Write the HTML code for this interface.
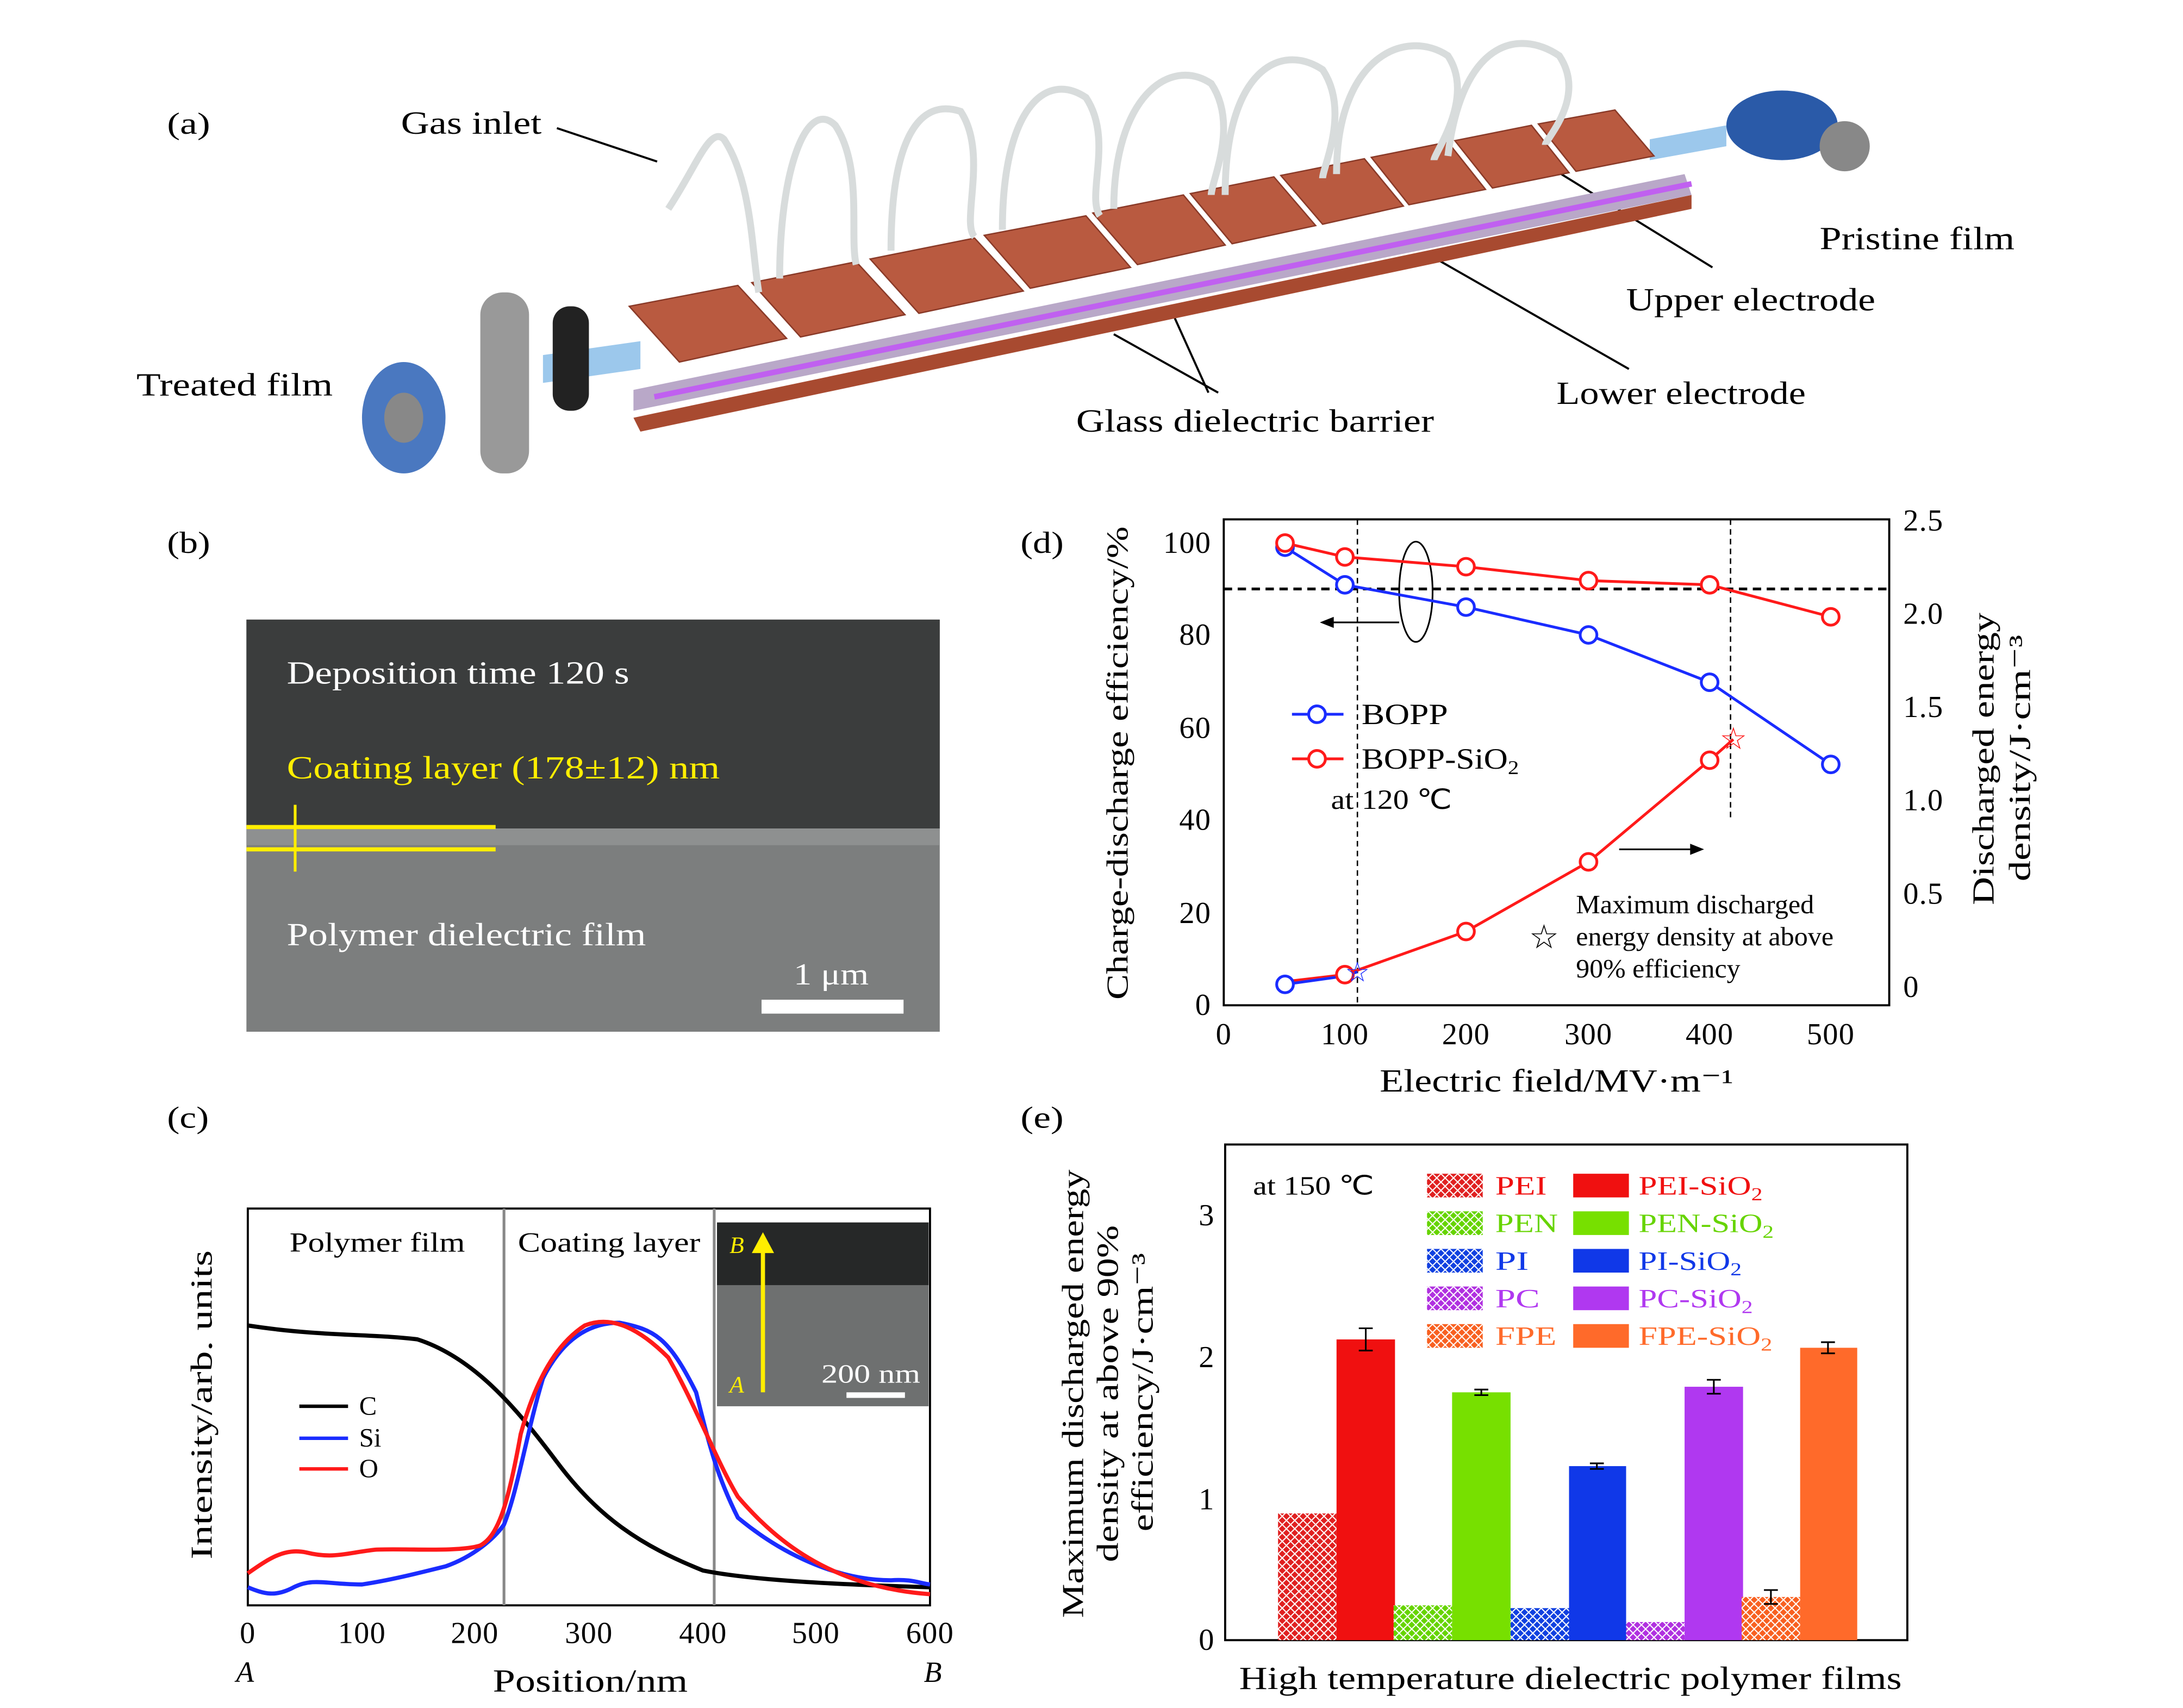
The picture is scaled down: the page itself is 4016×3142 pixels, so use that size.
<!DOCTYPE html>
<html><head><meta charset="utf-8"><style>html,body{margin:0;padding:0;background:#fff}svg{display:block}</style></head>
<body>
<svg width="4016" height="3142" viewBox="0 0 1568 1226.7" xmlns="http://www.w3.org/2000/svg" font-family="Liberation Serif, serif">
<defs>
<pattern id="hr" width="6" height="6" patternUnits="userSpaceOnUse"><rect width="6" height="6" fill="#e02020"/><path d="M0 0L6 6M6 0L0 6" stroke="#fff" stroke-width="0.8"/></pattern>
<pattern id="hg" width="6" height="6" patternUnits="userSpaceOnUse"><rect width="6" height="6" fill="#66d400"/><path d="M0 0L6 6M6 0L0 6" stroke="#fff" stroke-width="0.8"/></pattern>
<pattern id="hb" width="6" height="6" patternUnits="userSpaceOnUse"><rect width="6" height="6" fill="#1040e0"/><path d="M0 0L6 6M6 0L0 6" stroke="#fff" stroke-width="0.8"/></pattern>
<pattern id="hp" width="6" height="6" patternUnits="userSpaceOnUse"><rect width="6" height="6" fill="#b030e0"/><path d="M0 0L6 6M6 0L0 6" stroke="#fff" stroke-width="0.8"/></pattern>
<pattern id="ho" width="6" height="6" patternUnits="userSpaceOnUse"><rect width="6" height="6" fill="#f86020"/><path d="M0 0L6 6M6 0L0 6" stroke="#fff" stroke-width="0.8"/></pattern>
</defs>
<!-- (a) -->
<text x="120" y="96" font-size="22" textLength="31" lengthAdjust="spacingAndGlyphs">(a)</text>
<text x="288" y="96" font-size="23" textLength="101" lengthAdjust="spacingAndGlyphs">Gas inlet</text>
<line x1="400" y1="92" x2="472" y2="116" stroke="#000" stroke-width="1.5"/>
<text x="1307" y="179" font-size="23" textLength="140" lengthAdjust="spacingAndGlyphs">Pristine film</text>
<text x="1168" y="223" font-size="23" textLength="179" lengthAdjust="spacingAndGlyphs">Upper electrode</text>
<line x1="1230" y1="192" x2="1110" y2="118" stroke="#000" stroke-width="1.5"/>
<text x="1118" y="290" font-size="23" textLength="179" lengthAdjust="spacingAndGlyphs">Lower electrode</text>
<line x1="1170" y1="265" x2="1030" y2="185" stroke="#000" stroke-width="1.5"/>
<text x="773" y="310" font-size="23" textLength="257" lengthAdjust="spacingAndGlyphs">Glass dielectric barrier</text>
<line x1="875" y1="282" x2="800" y2="240" stroke="#000" stroke-width="1.5"/>
<line x1="868" y1="282" x2="840" y2="220" stroke="#000" stroke-width="1.5"/>
<text x="98" y="284" font-size="23" textLength="141" lengthAdjust="spacingAndGlyphs">Treated film</text>
<polygon points="390,255 460,245 460,265 390,275" fill="#9cc8ec"/>
<polygon points="1185,100 1240,90 1240,105 1185,115" fill="#9cc8ec"/>
<polygon points="455,300 1215,140 1215,150 460,310" fill="#a84a30"/>
<polygon points="455,280 1210,125 1215,140 455,295" fill="#b9a8c8"/>
<line x1="470" y1="285" x2="1215" y2="132" stroke="#c060f0" stroke-width="4"/>
<g fill="#b95a40" stroke="#8a3a28" stroke-width="1">
<polygon points="452,220 530,205 565,243 488,260"/>
<polygon points="540,203 615,188 650,226 575,242"/>
<polygon points="625,186 700,171 735,209 660,225"/>
<polygon points="707,169 780,155 812,192 740,207"/>
<polygon points="785,153 850,140 880,176 817,190"/>
<polygon points="855,139 915,127 945,162 885,175"/>
<polygon points="920,126 980,114 1008,148 950,161"/>
<polygon points="985,113 1040,102 1067,136 1012,147"/>
<polygon points="1045,101 1100,90 1127,124 1072,135"/>
<polygon points="1105,89 1160,79 1188,112 1132,123"/>
</g>
<path d="M480 150 C500 120 510 90 520 100 C540 130 540 180 545 210 M560 200 C560 120 580 70 600 90 C620 120 610 170 615 190 M640 180 C640 100 660 70 690 80 C710 110 690 160 700 170 M720 165 C720 80 750 50 780 70 C800 100 780 140 790 155 M800 150 C800 70 840 40 870 60 C890 90 870 130 870 140 M880 140 C880 50 920 30 950 50 C970 80 950 120 950 128 M960 125 C960 40 1010 20 1040 40 C1060 70 1030 110 1030 115 M1040 112 C1050 30 1090 20 1120 40 C1140 70 1110 100 1110 104" fill="none" stroke="#d8dcdc" stroke-width="5"/>
<g>
<ellipse cx="290" cy="300" rx="30" ry="40" fill="#4a78c0"/><ellipse cx="290" cy="300" rx="14" ry="18" fill="#888"/>
<rect x="345" y="210" width="35" height="130" rx="16" fill="#999"/>
<rect x="397" y="220" width="26" height="75" rx="12" fill="#222"/>
<ellipse cx="1280" cy="90" rx="40" ry="25" fill="#2a5aa8"/><ellipse cx="1325" cy="105" rx="18" ry="18" fill="#888"/>
</g>
<!-- (b) -->
<text x="120" y="397" font-size="22" textLength="31" lengthAdjust="spacingAndGlyphs">(b)</text>
<rect x="177" y="445" width="498" height="296" fill="#7c7e7e"/>
<rect x="177" y="445" width="498" height="150" fill="#3b3d3d"/>
<rect x="177" y="595" width="498" height="12" fill="#8e9090"/>
<text x="206" y="491" font-size="23" fill="#fff" textLength="246" lengthAdjust="spacingAndGlyphs">Deposition time 120 s</text>
<text x="206" y="559" font-size="23" fill="#ffee00" textLength="311" lengthAdjust="spacingAndGlyphs">Coating layer (178±12) nm</text>
<line x1="177" y1="594" x2="356" y2="594" stroke="#ffee00" stroke-width="3"/>
<line x1="177" y1="610" x2="356" y2="610" stroke="#ffee00" stroke-width="3"/>
<line x1="212" y1="578" x2="212" y2="626" stroke="#ffee00" stroke-width="2"/>
<text x="206" y="679" font-size="23" fill="#fff" textLength="258" lengthAdjust="spacingAndGlyphs">Polymer dielectric film</text>
<text x="570" y="707" font-size="22" fill="#fff" textLength="54" lengthAdjust="spacingAndGlyphs">1 μm</text>
<rect x="547" y="718" width="102" height="10" fill="#fff"/>
<!-- (c) -->
<text x="120" y="810" font-size="22" textLength="30" lengthAdjust="spacingAndGlyphs">(c)</text>
<rect x="178" y="868" width="490" height="285" fill="none" stroke="#000" stroke-width="1.5"/>
<line x1="362" y1="868" x2="362" y2="1153" stroke="#888" stroke-width="2"/>
<line x1="513" y1="868" x2="513" y2="1153" stroke="#888" stroke-width="2"/>
<text x="208" y="899" font-size="20" textLength="126" lengthAdjust="spacingAndGlyphs">Polymer film</text>
<text x="372" y="899" font-size="20" textLength="131" lengthAdjust="spacingAndGlyphs">Coating layer</text>
<rect x="515" y="878" width="152" height="132" fill="#6e7070"/><rect x="515" y="878" width="152" height="45" fill="#262828"/>
<line x1="548" y1="1000" x2="548" y2="895" stroke="#ffee00" stroke-width="3"/><polygon points="540,900 548,885 556,900" fill="#ffee00"/>
<text x="524" y="900" font-size="17" font-style="italic" fill="#ffee00">B</text>
<text x="524" y="1000" font-size="17" font-style="italic" fill="#ffee00">A</text>
<text x="590" y="993" font-size="19" fill="#fff" textLength="71" lengthAdjust="spacingAndGlyphs">200 nm</text>
<rect x="608" y="1000" width="42" height="4" fill="#fff"/>
<path d="M178 952 C230 960 270 958 300 962 C340 975 370 1010 400 1050 C430 1090 460 1110 505 1128 C540 1135 600 1138 668 1140" fill="none" stroke="#000" stroke-width="3"/>
<path d="M178 1140 C190 1145 198 1147 211 1140 C225 1133 235 1138 260 1138 C280 1135 300 1130 320 1125 C340 1118 355 1105 362 1095 C372 1070 378 1030 390 990 C405 960 425 950 445 950 C470 955 480 960 500 1000 C510 1040 515 1060 530 1090 C560 1115 600 1135 640 1135 C655 1134 660 1137 668 1138" fill="none" stroke="#1a2cff" stroke-width="3"/>
<path d="M178 1130 C195 1118 205 1112 220 1115 C240 1120 250 1115 270 1113 C290 1112 330 1115 345 1110 C358 1103 365 1080 374 1030 C385 990 400 965 420 952 C440 944 460 955 480 975 C500 1010 515 1050 530 1075 C560 1110 600 1140 668 1145" fill="none" stroke="#ff1a1a" stroke-width="3"/>
<line x1="215" y1="1010" x2="250" y2="1010" stroke="#000" stroke-width="2.5"/><text x="258" y="1016" font-size="19">C</text>
<line x1="215" y1="1033" x2="250" y2="1033" stroke="#1a2cff" stroke-width="2.5"/><text x="258" y="1039" font-size="19">Si</text>
<line x1="215" y1="1055" x2="250" y2="1055" stroke="#ff1a1a" stroke-width="2.5"/><text x="258" y="1061" font-size="19">O</text>
<g font-size="22" letter-spacing="0.5" text-anchor="middle"><text x="178" y="1180">0</text><text x="260" y="1180">100</text><text x="341" y="1180">200</text><text x="423" y="1180">300</text><text x="505" y="1180">400</text><text x="586" y="1180">500</text><text x="668" y="1180">600</text></g>
<text x="176" y="1208" font-size="21" font-style="italic" text-anchor="middle">A</text><text x="670" y="1208" font-size="21" font-style="italic" text-anchor="middle">B</text>
<text x="354" y="1215" font-size="23" textLength="140" lengthAdjust="spacingAndGlyphs">Position/nm</text>
<text transform="translate(152,1120) rotate(-90)" font-size="22" textLength="222" lengthAdjust="spacingAndGlyphs">Intensity/arb. units</text>
<!-- (d) -->
<text x="733" y="397" font-size="22" textLength="31" lengthAdjust="spacingAndGlyphs">(d)</text>
<rect x="879" y="373" width="478" height="349" fill="none" stroke="#000" stroke-width="1.5"/>
<g font-size="22" letter-spacing="0.5" text-anchor="end"><text x="870" y="729">0</text><text x="870" y="663">20</text><text x="870" y="596">40</text><text x="870" y="530">60</text><text x="870" y="463">80</text><text x="870" y="397">100</text></g>
<g font-size="22" letter-spacing="0.5"><text x="1367" y="716">0</text><text x="1367" y="649">0.5</text><text x="1367" y="582">1.0</text><text x="1367" y="515">1.5</text><text x="1367" y="448">2.0</text><text x="1367" y="381">2.5</text></g>
<g font-size="22" letter-spacing="0.5" text-anchor="middle"><text x="879" y="750">0</text><text x="966" y="750">100</text><text x="1053" y="750">200</text><text x="1141" y="750">300</text><text x="1228" y="750">400</text><text x="1315" y="750">500</text></g>
<text x="991" y="784" font-size="23" textLength="254" lengthAdjust="spacingAndGlyphs">Electric field/MV·m⁻¹</text>
<text transform="translate(810,718) rotate(-90)" font-size="22" textLength="340" lengthAdjust="spacingAndGlyphs">Charge-discharge efficiency/%</text>
<text transform="translate(1432,650) rotate(-90)" font-size="22" textLength="210" lengthAdjust="spacingAndGlyphs">Discharged energy</text>
<text transform="translate(1458,633) rotate(-90)" font-size="22" textLength="177" lengthAdjust="spacingAndGlyphs">density/J·cm⁻³</text>
<line x1="879" y1="423" x2="1357" y2="423" stroke="#000" stroke-width="2" stroke-dasharray="6,4"/>
<line x1="975" y1="373" x2="975" y2="722" stroke="#000" stroke-width="1" stroke-dasharray="4,3"/>
<line x1="1243" y1="373" x2="1243" y2="590" stroke="#000" stroke-width="1" stroke-dasharray="4,3"/>
<ellipse cx="1017" cy="425" rx="12" ry="36" fill="none" stroke="#000" stroke-width="1.2"/>
<line x1="1005" y1="447" x2="950" y2="447" stroke="#000" stroke-width="1.2"/><polygon points="948,447 958,443 958,451"/>
<line x1="1163" y1="610" x2="1220" y2="610" stroke="#000" stroke-width="1.2"/><polygon points="1224,610 1214,606 1214,614"/>
<g fill="none" stroke-width="2">
<polyline stroke="#1a2cff" points="923,393 966,420 1053,436 1141,456 1228,490 1315,549"/>
<polyline stroke="#ff1a1a" points="923,390 966,400 1053,407 1141,417 1228,420 1315,443"/>
<polyline stroke="#ff1a1a" points="923,705 966,700 1053,669 1141,619 1228,546 1245,531"/>
<polyline stroke="#1a2cff" points="923,707 966,701 975,698"/>
</g>
<g fill="#fff" stroke-width="2">
<g stroke="#1a2cff"><circle cx="923" cy="393" r="6"/><circle cx="966" cy="420" r="6"/><circle cx="1053" cy="436" r="6"/><circle cx="1141" cy="456" r="6"/><circle cx="1228" cy="490" r="6"/><circle cx="1315" cy="549" r="6"/><circle cx="923" cy="707" r="6"/></g>
<g stroke="#ff1a1a"><circle cx="923" cy="390" r="6"/><circle cx="966" cy="400" r="6"/><circle cx="1053" cy="407" r="6"/><circle cx="1141" cy="417" r="6"/><circle cx="1228" cy="420" r="6"/><circle cx="1315" cy="443" r="6"/><circle cx="966" cy="700" r="6"/><circle cx="1053" cy="669" r="6"/><circle cx="1141" cy="619" r="6"/><circle cx="1228" cy="546" r="6"/></g>
</g>
<text x="1245" y="538" font-size="22" fill="#ff1a1a" text-anchor="middle">☆</text>
<text x="975" y="705" font-size="20" fill="#1a2cff" text-anchor="middle">☆</text>
<line x1="928" y1="513" x2="965" y2="513" stroke="#1a2cff" stroke-width="2"/><circle cx="946" cy="513" r="6" fill="#fff" stroke="#1a2cff" stroke-width="2"/>
<text x="978" y="520" font-size="21" textLength="62" lengthAdjust="spacingAndGlyphs">BOPP</text>
<line x1="928" y1="545" x2="965" y2="545" stroke="#ff1a1a" stroke-width="2"/><circle cx="946" cy="545" r="6" fill="#fff" stroke="#ff1a1a" stroke-width="2"/>
<text x="978" y="552" font-size="21" textLength="113" lengthAdjust="spacingAndGlyphs">BOPP-SiO<tspan font-size="14" dy="4">2</tspan></text>
<text x="956" y="581" font-size="20" textLength="87" lengthAdjust="spacingAndGlyphs">at 120 ℃</text>
<text x="1132" y="656" font-size="19" textLength="171" lengthAdjust="spacingAndGlyphs">Maximum discharged</text>
<text x="1132" y="679" font-size="19" textLength="185" lengthAdjust="spacingAndGlyphs">energy density at above</text>
<text x="1132" y="702" font-size="19" textLength="118" lengthAdjust="spacingAndGlyphs">90% efficiency</text>
<text x="1109" y="681" font-size="24" text-anchor="middle">☆</text>
<!-- (e) -->
<text x="733" y="810" font-size="22" textLength="31" lengthAdjust="spacingAndGlyphs">(e)</text>
<rect x="880" y="822" width="490" height="356" fill="none" stroke="#000" stroke-width="1.5"/>
<g font-size="22" text-anchor="end"><text x="872" y="1185">0</text><text x="872" y="1084">1</text><text x="872" y="982">2</text><text x="872" y="880">3</text></g>
<text x="890" y="1213" font-size="23" textLength="476" lengthAdjust="spacingAndGlyphs">High temperature dielectric polymer films</text>
<text transform="translate(778,1162) rotate(-90)" font-size="22" textLength="322" lengthAdjust="spacingAndGlyphs">Maximum discharged energy</text>
<text transform="translate(803,1122) rotate(-90)" font-size="22" textLength="242" lengthAdjust="spacingAndGlyphs">density at above 90%</text>
<text transform="translate(828,1100) rotate(-90)" font-size="22" textLength="200" lengthAdjust="spacingAndGlyphs">efficiency/J·cm⁻³</text>
<text x="900" y="858" font-size="19" textLength="87" lengthAdjust="spacingAndGlyphs">at 150 ℃</text>
<rect x="918" y="1087" width="42" height="91" fill="url(#hr)"/>
<rect x="960" y="962" width="42" height="216" fill="#f01010"/>
<rect x="1001" y="1153" width="42" height="25" fill="url(#hg)"/>
<rect x="1043" y="1000" width="42" height="178" fill="#77e000"/>
<rect x="1085" y="1155" width="42" height="23" fill="url(#hb)"/>
<rect x="1127" y="1053" width="41" height="125" fill="#1038e8"/>
<rect x="1168" y="1165" width="42" height="13" fill="url(#hp)"/>
<rect x="1210" y="996" width="42" height="182" fill="#b038f0"/>
<rect x="1251" y="1147" width="42" height="31" fill="url(#ho)"/>
<rect x="1293" y="968" width="41" height="210" fill="#ff6a2a"/>
<g stroke="#000" stroke-width="1.2"><path d="M981 954V970M976 954H986M976 970H986"/><path d="M1064 998V1002M1059 998H1069M1059 1002H1069"/><path d="M1147 1051V1055M1142 1051H1152M1142 1055H1152"/><path d="M1231 991V1001M1226 991H1236M1226 1001H1236"/><path d="M1313 964V972M1308 964H1318M1308 972H1318"/><path d="M1272 1142V1152M1267 1142H1277M1267 1152H1277"/></g>
<g font-size="19">
<rect x="1025" y="843" width="40" height="17" fill="url(#hr)"/><text x="1074" y="858" fill="#f01010" textLength="37" lengthAdjust="spacingAndGlyphs">PEI</text>
<rect x="1130" y="843" width="40" height="17" fill="#f01010"/><text x="1177" y="858" fill="#f01010" textLength="89" lengthAdjust="spacingAndGlyphs">PEI-SiO<tspan font-size="13" dy="4">2</tspan></text>
<rect x="1025" y="870" width="40" height="17" fill="url(#hg)"/><text x="1074" y="885" fill="#66d400" textLength="45" lengthAdjust="spacingAndGlyphs">PEN</text>
<rect x="1130" y="870" width="40" height="17" fill="#77e000"/><text x="1177" y="885" fill="#66d400" textLength="97" lengthAdjust="spacingAndGlyphs">PEN-SiO<tspan font-size="13" dy="4">2</tspan></text>
<rect x="1025" y="897" width="40" height="17" fill="url(#hb)"/><text x="1074" y="912" fill="#1038e8" textLength="24" lengthAdjust="spacingAndGlyphs">PI</text>
<rect x="1130" y="897" width="40" height="17" fill="#1038e8"/><text x="1177" y="912" fill="#1038e8" textLength="74" lengthAdjust="spacingAndGlyphs">PI-SiO<tspan font-size="13" dy="4">2</tspan></text>
<rect x="1025" y="924" width="40" height="17" fill="url(#hp)"/><text x="1074" y="939" fill="#b038f0" textLength="32" lengthAdjust="spacingAndGlyphs">PC</text>
<rect x="1130" y="924" width="40" height="17" fill="#b038f0"/><text x="1177" y="939" fill="#b038f0" textLength="82" lengthAdjust="spacingAndGlyphs">PC-SiO<tspan font-size="13" dy="4">2</tspan></text>
<rect x="1025" y="951" width="40" height="17" fill="url(#ho)"/><text x="1074" y="966" fill="#ff6a2a" textLength="44" lengthAdjust="spacingAndGlyphs">FPE</text>
<rect x="1130" y="951" width="40" height="17" fill="#ff6a2a"/><text x="1177" y="966" fill="#ff6a2a" textLength="96" lengthAdjust="spacingAndGlyphs">FPE-SiO<tspan font-size="13" dy="4">2</tspan></text>
</g>
</svg>
</body></html>
